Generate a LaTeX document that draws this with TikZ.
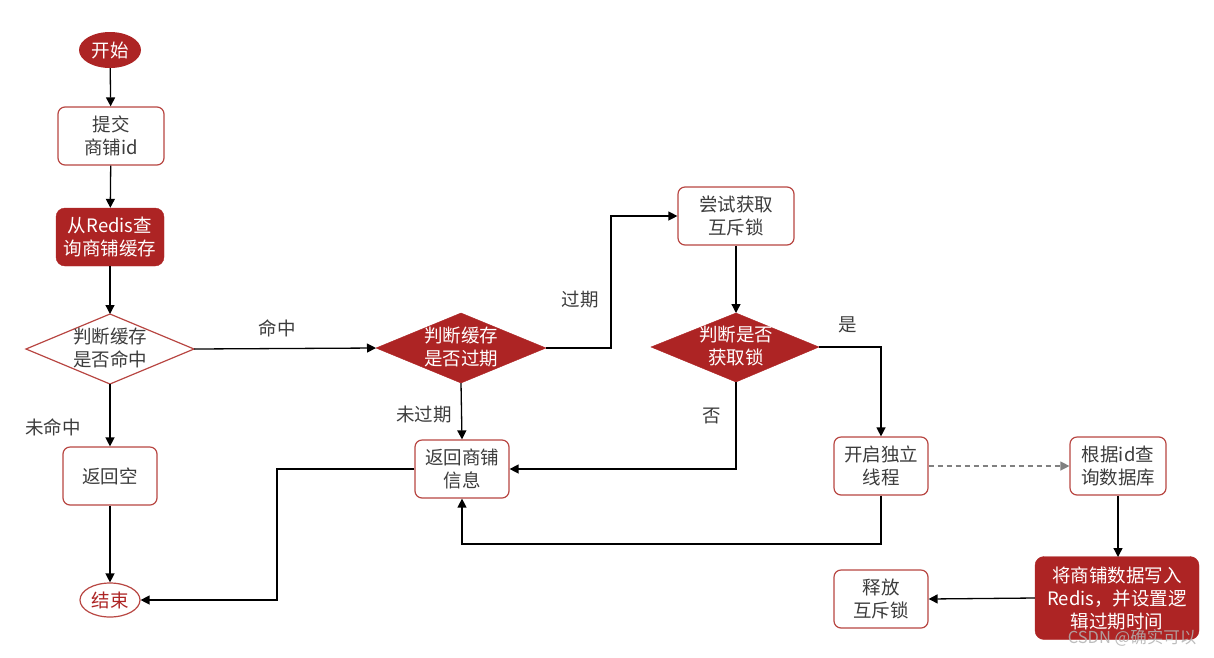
\documentclass[tikz,border=0pt]{standalone}
\usepackage{fontspec}
\setmainfont{Noto Sans CJK SC}
\usetikzlibrary{shapes.geometric,arrows.meta}
\definecolor{rfill}{RGB}{173,36,36}
\definecolor{rline}{RGB}{184,70,66}
\definecolor{txt}{RGB}{60,60,60}
\begin{document}
\begin{tikzpicture}[x=1pt,y=-1pt,
  every node/.style={font=\fontsize{18.5}{23}\selectfont, align=center, inner sep=0pt},
  wbox/.style={draw=rline, line width=1.2pt, fill=white, rounded corners=7pt, text=txt},
  rbox/.style={fill=rfill, draw=rfill, rounded corners=9pt, text=white},
  lbl/.style={text=txt},
  conn/.style={line width=1.3pt, -{Triangle[length=9pt,width=9pt]}},
  plain/.style={line width=1.3pt}
]
\useasboundingbox (0,0) rectangle (1214,657);
% nodes
\node[ellipse, fill=rfill, text=white, minimum width=62pt, minimum height=36pt] (start) at (110,50) {开始};
\node[wbox, minimum width=106pt, minimum height=58pt] (submit) at (111,136) {提交\\商铺id};
\node[rbox, minimum width=108pt, minimum height=58pt] (query) at (110,237) {从Redis查\\询商铺缓存};
\draw[rline, line width=1.2pt, fill=white] (26,349) coordinate (d1w) -- (110,314) coordinate (d1n) -- (194,349) coordinate (d1e) -- (110,384) coordinate (d1s) -- cycle;
\node[text=txt] (d1) at (110,348) {判断缓存\\是否命中};
\node[wbox, minimum width=94pt, minimum height=58pt] (empty) at (110,476) {返回空};
\node[ellipse, draw=rline, line width=1.2pt, fill=white, text=rfill, minimum width=60pt, minimum height=34pt] (end) at (110,600) {结束};

\draw[rfill, fill=rfill] (376,348) coordinate (d2w) -- (461,313) coordinate (d2n) -- (546,348) coordinate (d2e) -- (461,383) coordinate (d2s) -- cycle;
\node[text=white] (d2) at (461,347) {判断缓存\\是否过期};
\node[wbox, minimum width=94pt, minimum height=58pt] (ret) at (462,469) {返回商铺\\信息};

\node[wbox, minimum width=116pt, minimum height=58pt] (try) at (736,216) {尝试获取\\互斥锁};
\draw[rfill, fill=rfill] (651,347) coordinate (d3w) -- (736,313) coordinate (d3n) -- (819,347) coordinate (d3e) -- (736,382) coordinate (d3s) -- cycle;
\node[text=white] (d3) at (736,346) {判断是否\\获取锁};

\node[wbox, minimum width=94pt, minimum height=58pt] (thread) at (881,466) {开启独立\\线程};
\node[wbox, minimum width=96pt, minimum height=58pt] (db) at (1118,466) {根据id查\\询数据库};
\node[rbox, minimum width=164pt, minimum height=83pt] (write) at (1117,598) {将商铺数据写入\\Redis，并设置逻\\辑过期时间};
\node[wbox, minimum width=94pt, minimum height=58pt] (rel) at (881,599) {释放\\互斥锁};

% labels
\node[lbl] (l1) at (53,427) {未命中};
\node[lbl] (l2) at (277,328) {命中};
\node[lbl] (l3) at (580,300) {过期};
\node[lbl] (l4) at (424,415) {未过期};
\node[lbl] (l5) at (848,325) {是};
\node[lbl] (l6) at (712,416) {否};
\node[text=gray!60, font=\fontsize{16.5}{18}\selectfont, opacity=0.85] (wm) at (1132,638) {CSDN @确实可以};

% connectors
\draw[conn] (start) -- (submit);
\draw[conn] (submit) -- (query);
\draw[conn] (query) -- (d1n);
\draw[conn] (d1s) -- (empty);
\draw[conn] (empty) -- (end);
\draw[conn] (d1e) -- (d2w);
\draw[conn] (d2e) -- (611,348) -- (611,216) -- (try.west);
\draw[conn] (d2s) -- (ret.north);
\draw[conn] (try) -- (d3n);
\draw[conn] (d3e) -- (881,347) -- (thread.north);
\draw[conn] (d3s) -- (736,469) -- (ret.east);
\draw[conn] (ret.west) -- (277,469) -- (277,600) -- (end.east);
\draw[conn] (thread.south) -- (881,544) -- (462,544) -- (ret.south);
\draw[line width=1.3pt, gray, dashed, dash pattern=on 5pt off 4pt, -{Triangle[length=9pt,width=9pt]}] (thread.east) -- (db.west);
\draw[conn] (db.south) -- (1118,557);
\draw[conn] (write.west) -- (rel.east);
\end{tikzpicture}
\end{document}
